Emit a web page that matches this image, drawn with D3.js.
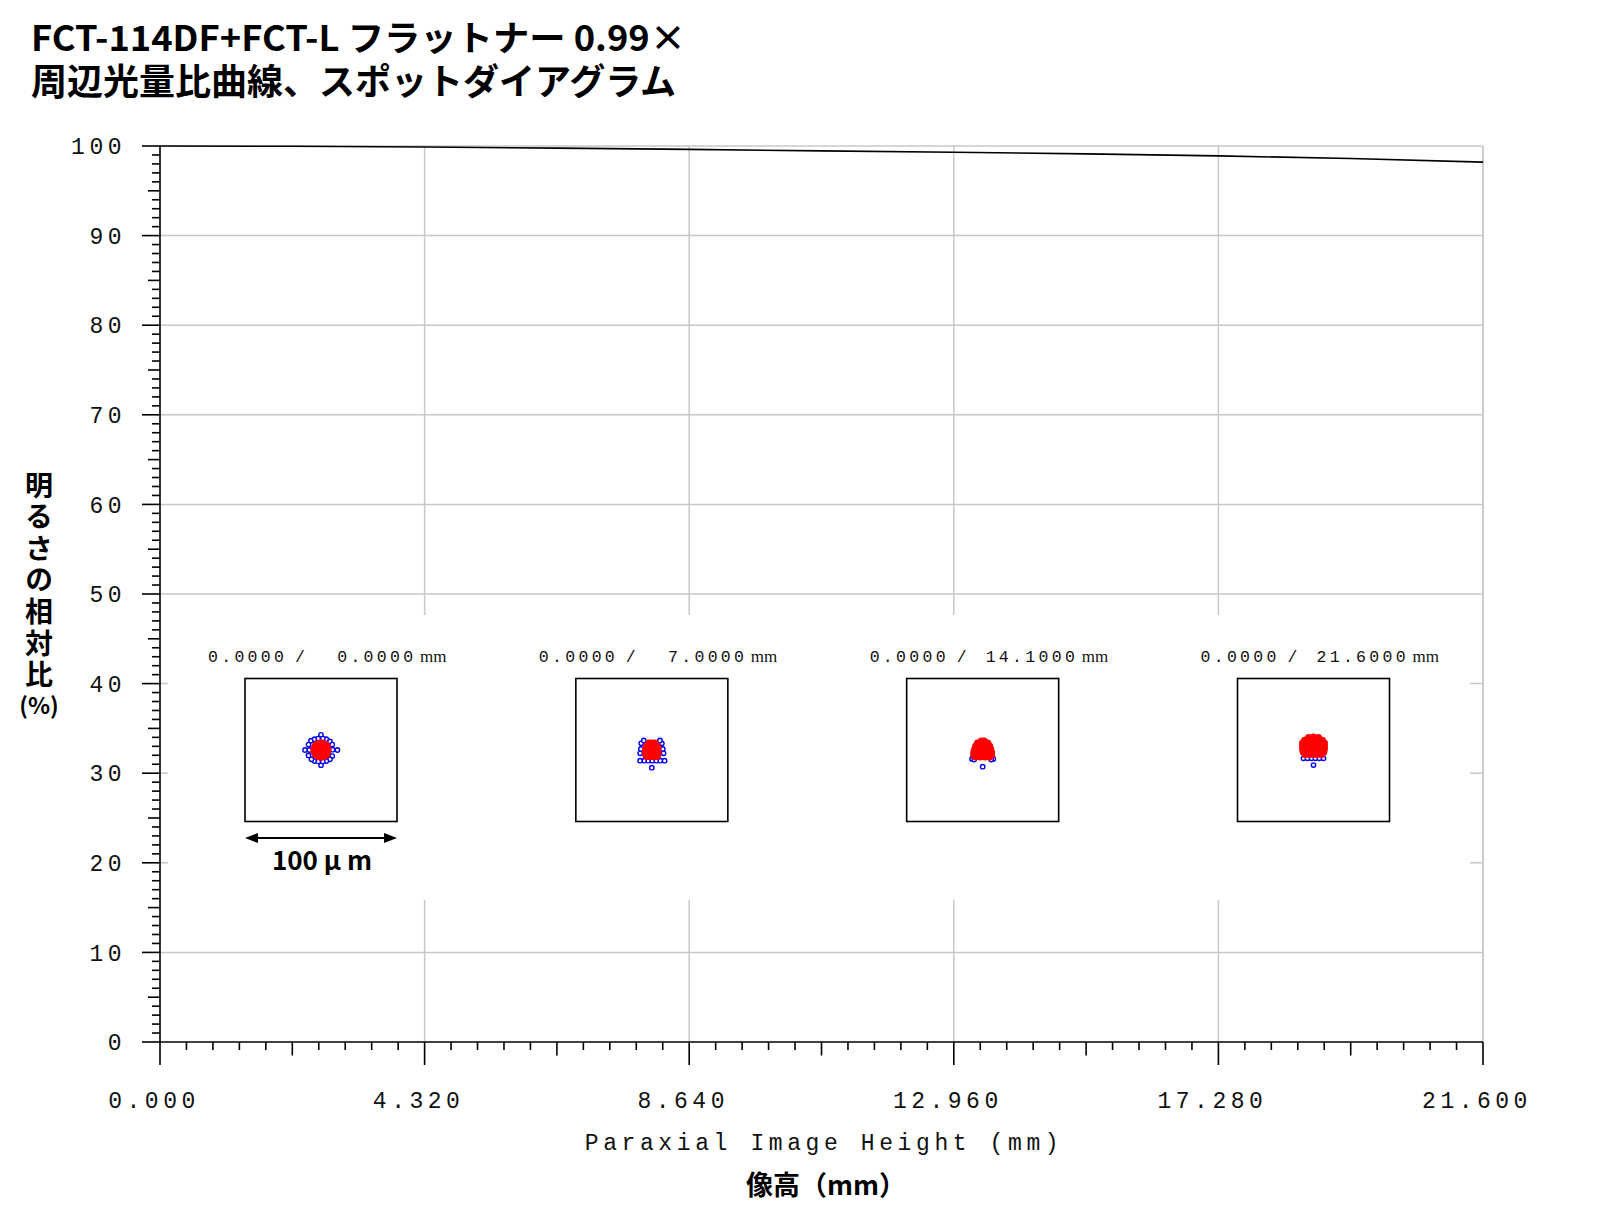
<!DOCTYPE html>
<html>
<head>
<meta charset="utf-8">
<script src="https://cdn.jsdelivr.net/npm/d3@7"></script>
<style>
  body { margin: 0; background: #fff; }
  svg { display: block; }
</style>
</head>
<body>
<div id="chart"></div>
<script>
// define variables
const width = 1600;
const height = 1219;

const mono = "'Liberation Mono', 'DejaVu Sans Mono', monospace";
const jp = "'Noto Sans CJK JP', 'Noto Sans', sans-serif";

///
/// DATA
///

// relative illumination (%) vs paraxial image height (mm)
const illumX = [0, 2.16, 4.32, 6.48, 8.64, 10.8, 12.96, 15.12, 17.28, 19.44, 21.6];
const illumY = [100, 99.97, 99.88, 99.76, 99.62, 99.46, 99.3, 99.12, 98.9, 98.6, 98.2];

const xTicks = [0, 4.32, 8.64, 12.96, 17.28, 21.6];
const xTickLabels = ["0.000", "4.320", "8.640", "12.960", "17.280", "21.600"];
const yTicks = [0, 10, 20, 30, 40, 50, 60, 70, 80, 90, 100];
const yTickLabels = ["0", "10", "20", "30", "40", "50", "60", "70", "80", "90", "100"];

// spot diagrams: field heights (mm) and ray hits (um, y up)
const objectHeights = [0.0, 0.0, 0.0, 0.0];
const fieldHeights = [0.0, 7.0, 14.1, 21.6];

const spotRed0 = [[0,0],[2.3,0],[-2.3,0],[0,2.3],[0,-2.3],[1.6,1.6],[-1.6,1.6],[1.6,-1.6],[-1.6,-1.6],
  [4.7,0],[-4.7,0],[0,4.7],[0,-4.7],[3.4,3.4],[-3.4,3.4],[3.4,-3.4],[-3.4,-3.4],
  [4.3,1.8],[-4.3,1.8],[4.3,-1.8],[-4.3,-1.8],[1.8,4.3],[-1.8,4.3],[1.8,-4.3],[-1.8,-4.3]];
const spotBlue0 = [[0,10],[0,-10],[-10.5,0],[10.8,0],
  [-6.6,6.1],[-4.2,7.1],[3.5,7.1],[5.9,5.6],[7.4,3.6],[7.4,-4],[5.9,-6.1],[3.5,-7.3],
  [-4.2,-7.3],[-6.3,-6.1],[-8.2,-3.6],[-8.2,3.6],[-1.8,7.5],[1.2,7.5],[-1.8,-7.5],[1.2,-7.5],
  [-7.6,0],[7.6,0.2]];

const spotRed1 = [[-2,4.6],[0,4.6],[2,4.6],
  [-3.6,2.6],[-1.6,2.6],[0,2.6],[1.6,2.6],[3.6,2.6],
  [-4.1,0.7],[-2,0.7],[0,0.7],[2,0.7],[4.1,0.7],
  [-4.1,-1.3],[-2,-1.3],[0,-1.3],[2,-1.3],[4.1,-1.3],
  [-4.1,-3.3],[-2,-3.3],[0,-3.3],[2,-3.3],[4.1,-3.3],
  [-3.3,-4.3],[-1,-4.3],[1,-4.3],[3.3,-4.3]];
const spotBlue1 = [[-7.7,-7],[-4.9,-7],[-2.3,-7],[0.3,-7],[3,-7],[5.6,-7],[8.4,-7],
  [-7,4.4],[6.6,4.4],[-7.7,-2.2],[7.7,-2.2],[-7.2,0.7],[7.2,0.7],[-5.3,6.3],[5.3,6.3],[0,-11.6]];

const spotRed2 = [[-1,6],[1,6],
  [-3.4,4.6],[-1.2,4.6],[1.2,4.6],[3.4,4.6],
  [-4.6,2.6],[-2.4,2.6],[0,2.6],[2.4,2.6],[4.6,2.6],
  [-5.3,0.6],[-3,0.6],[-1,0.6],[1,0.6],[3,0.6],[5.3,0.6],
  [-5.9,-1.4],[-3.6,-1.4],[-1.6,-1.4],[0,-1.4],[1.6,-1.4],[3.6,-1.4],[5.9,-1.4],
  [-5.9,-3.4],[-3.6,-3.4],[-1.6,-3.4],[0,-3.4],[1.6,-3.4],[3.6,-3.4],[5.9,-3.4],
  [-4.6,-4.6],[-1.6,-4.6],[1.6,-4.6],[4.6,-4.6]];
const spotBlue2 = [[-7,-5.9],[7,-5.9],[-5.6,-6.3],[5.6,-6.3],[0,-11]];

const spotRed3 = [[-3.3,8.2],[0,8.6],[3.3,8.2],
  [-5.9,6.4],[-3.9,6.4],[-1.3,6.6],[1.3,6.6],[3.9,6.4],[5.9,6.4],
  [-7.2,4.6],[-5.3,4.6],[-2.6,4.6],[0,4.6],[2.6,4.6],[5.3,4.6],[7.2,4.6],
  [-7.2,2.6],[-5.3,2.6],[-2.6,2.6],[0,2.6],[2.6,2.6],[5.3,2.6],[7.2,2.6],
  [-7.2,0.7],[-5.3,0.7],[-2.6,0.7],[0,0.7],[2.6,0.7],[5.3,0.7],[7.2,0.7],
  [-6.8,-1.3],[-3.9,-1.3],[-1.3,-1.3],[1.3,-1.3],[3.9,-1.3],[6.8,-1.3],
  [-5.6,-3],[-2.6,-3],[0,-3],[2.6,-3],[5.6,-3]];
const spotBlue3 = [[-6.6,-5.5],[-3.9,-5.5],[-1.3,-5.5],[1.3,-5.5],[3.9,-5.5],[6.6,-5.5],[0,-9.9]];

const spotRed = [spotRed0, spotRed1, spotRed2, spotRed3];
const spotBlue = [spotBlue0, spotBlue1, spotBlue2, spotBlue3];

///
/// SVG + SCALES
///

const svg = d3.select("#chart")
  .append("svg")
  .attr("width", width)
  .attr("height", height)
  .attr("viewBox", [0, 0, width, height]);

const x = d3.scaleLinear().domain([0, 21.6]).range([160, 1483]);
const y = d3.scaleLinear().domain([0, 100]).range([1042, 146]);

///
/// GRID
///

const grid = svg.append("g").attr("stroke", "#c8c8c8").attr("stroke-width", 1.5);
grid.selectAll(".vgrid")
  .data(xTicks.slice(1))
  .join("line")
  .attr("x1", d => x(d)).attr("x2", d => x(d))
  .attr("y1", y(100)).attr("y2", y(0));
grid.selectAll(".hgrid")
  .data(yTicks.slice(1))
  .join("line")
  .attr("x1", x(0)).attr("x2", x(21.6))
  .attr("y1", d => y(d)).attr("y2", d => y(d));

// white panel behind the spot diagrams
svg.append("rect")
  .attr("x", 168).attr("y", 615)
  .attr("width", 1302).attr("height", 285)
  .attr("fill", "#fff");

// right border
svg.append("line")
  .attr("x1", x(21.6)).attr("x2", x(21.6))
  .attr("y1", y(100)).attr("y2", y(0))
  .attr("stroke", "#c8c8c8").attr("stroke-width", 1.5);

///
/// CURVE
///

const line = d3.line()
  .x((d, i) => x(illumX[i]))
  .y(d => y(d));

svg.append("path")
  .datum(illumY)
  .attr("fill", "none")
  .attr("stroke", "#000")
  .attr("stroke-width", 1.6)
  .attr("d", line);

///
/// AXES
///

const axes = svg.append("g").attr("stroke", "#000").attr("stroke-width", 1.6);

axes.append("line")
  .attr("x1", x(0)).attr("x2", x(21.6))
  .attr("y1", y(0)).attr("y2", y(0));
axes.append("line")
  .attr("x1", x(0)).attr("x2", x(0))
  .attr("y1", y(100)).attr("y2", y(0));

// x ticks: 10 subdivisions per major step
const xMinor = d3.range(0, 51);
axes.selectAll(".xtick")
  .data(xMinor)
  .join("line")
  .attr("x1", i => x(i * 0.432)).attr("x2", i => x(i * 0.432))
  .attr("y1", y(0))
  .attr("y2", i => y(0) + (i % 10 === 0 ? 23 : i % 5 === 0 ? 13.5 : 8));

// y ticks: every 1 %
const yMinor = d3.range(0, 101);
axes.selectAll(".ytick")
  .data(yMinor)
  .join("line")
  .attr("y1", d => y(d)).attr("y2", d => y(d))
  .attr("x1", x(0))
  .attr("x2", d => x(0) - (d % 10 === 0 ? 18 : d % 5 === 0 ? 12 : 8));

svg.append("g")
  .selectAll("text")
  .data(xTicks)
  .join("text")
  .attr("x", d => x(d) - 6)
  .attr("y", 1108)
  .attr("text-anchor", "middle")
  .attr("font-family", mono)
  .attr("font-size", 23)
  .attr("letter-spacing", 4.5)
  .attr("fill", "#111")
  .text((d, i) => xTickLabels[i]);

svg.append("g")
  .selectAll("text")
  .data(yTicks)
  .join("text")
  .attr("x", 126)
  .attr("y", d => y(d))
  .attr("dy", "0.36em")
  .attr("text-anchor", "end")
  .attr("font-family", mono)
  .attr("font-size", 23)
  .attr("letter-spacing", 4.5)
  .attr("fill", "#111")
  .text((d, i) => yTickLabels[i]);

///
/// TITLES
///

svg.append("text")
  .attr("x", 824)
  .attr("y", 1150)
  .attr("text-anchor", "middle")
  .attr("font-family", mono)
  .attr("font-size", 23)
  .attr("letter-spacing", 4.6)
  .attr("fill", "#111")
  .text("Paraxial Image Height (mm)");

svg.append("text")
  .attr("x", 826)
  .attr("y", 1195)
  .attr("text-anchor", "middle")
  .attr("font-family", jp)
  .attr("font-size", 27)
  .attr("font-weight", 700)
  .text("像高（mm）");

// vertical y label
svg.append("text")
  .attr("x", 39)
  .attr("y", 471)
  .attr("font-family", jp)
  .attr("font-size", 28)
  .attr("font-weight", 700)
  .attr("letter-spacing", 3.6)
  .style("writing-mode", "vertical-rl")
  .text("明るさの相対比");
svg.append("text")
  .attr("x", 39)
  .attr("y", 714)
  .attr("text-anchor", "middle")
  .attr("font-family", jp)
  .attr("font-size", 23)
  .attr("font-weight", 700)
  .text("(%)");

// two-line chart title
const title = svg.append("text")
  .attr("font-family", jp)
  .attr("font-weight", 700);
title.append("tspan")
  .attr("x", 31).attr("y", 51)
  .attr("font-size", 35)
  .attr("textLength", 655)
  .attr("lengthAdjust", "spacingAndGlyphs")
  .text("FCT-114DF+FCT-L フラットナー 0.99×");
title.append("tspan")
  .attr("x", 31).attr("y", 95)
  .attr("font-size", 36)
  .text("周辺光量比曲線、スポットダイアグラム");

///
/// SPOT DIAGRAMS
///

const boxX = d3.scalePoint().domain(fieldHeights).range([321, 1313.5]);
const boxCY = 750;
const boxW = 152, boxH = 143;
const um = d3.scaleLinear().domain([-50, 50]).range([-boxW / 2, boxW / 2]);
const umY = d3.scaleLinear().domain([-50, 50]).range([boxW / 2, -boxW / 2]);

fieldHeights.forEach((h, k) => {
  const cx = boxX(h);
  const g = svg.append("g").attr("transform", `translate(${cx},${boxCY})`);

  g.append("rect")
    .attr("x", -boxW / 2).attr("y", -boxH / 2)
    .attr("width", boxW).attr("height", boxH)
    .attr("fill", "none")
    .attr("stroke", "#000")
    .attr("stroke-width", 1.6);

  g.selectAll(".blue")
    .data(spotBlue[k])
    .join("circle")
    .attr("cx", d => um(d[0]))
    .attr("cy", d => umY(d[1]))
    .attr("r", 2.2)
    .attr("fill", "#fff")
    .attr("stroke", "#0000ee")
    .attr("stroke-width", 1.4);

  g.selectAll(".red")
    .data(spotRed[k])
    .join("circle")
    .attr("cx", d => um(d[0]))
    .attr("cy", d => umY(d[1]))
    .attr("r", 3.5)
    .attr("fill", "#ff0000");

  // field label: object height / image height
  const lbl = g.append("g")
    .attr("font-family", mono)
    .attr("font-size", 16.5)
    .attr("letter-spacing", 3.3)
    .attr("fill", "#111");
  const ty = -boxH / 2 - 17;
  lbl.append("text")
    .attr("x", -113).attr("y", ty)
    .text(objectHeights[k].toFixed(4));
  lbl.append("text")
    .attr("x", -26).attr("y", ty)
    .text("/");
  lbl.append("text")
    .attr("x", 3).attr("y", ty)
    .style("white-space", "pre")
    .text(h.toFixed(4).padStart(7, " "));
  g.append("text")
    .attr("x", 99).attr("y", ty)
    .attr("font-family", "'Liberation Serif', serif")
    .attr("font-size", 17)
    .attr("fill", "#111")
    .text("mm");
});

// scale bar under the first box
const c0 = boxX(fieldHeights[0]);
const barY = 838;
const bar = svg.append("g");
bar.append("line")
  .attr("x1", c0 - boxW / 2 + 8).attr("x2", c0 + boxW / 2 - 8)
  .attr("y1", barY).attr("y2", barY)
  .attr("stroke", "#000").attr("stroke-width", 2.2);
bar.append("path")
  .attr("d", `M${c0 - boxW / 2},${barY} l13,-5 v10 Z M${c0 + boxW / 2},${barY} l-13,-5 v10 Z`)
  .attr("fill", "#000");
bar.append("text")
  .attr("x", c0 + 1)
  .attr("y", 870)
  .attr("text-anchor", "middle")
  .attr("font-family", jp)
  .attr("font-size", 26)
  .attr("font-weight", 600)
  .text("100 μ m");
</script>
</body>
</html>
